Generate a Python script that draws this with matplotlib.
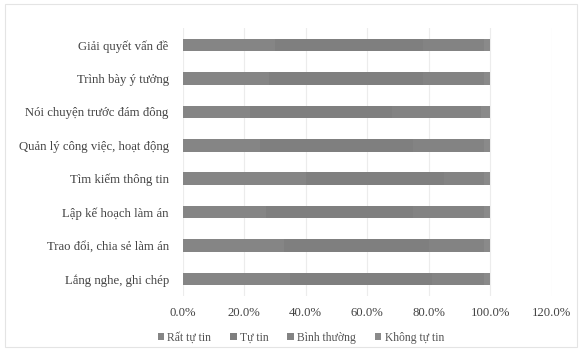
import matplotlib
matplotlib.use("Agg")
import matplotlib.pyplot as plt
from matplotlib.patches import Rectangle
from matplotlib.ticker import FuncFormatter, MultipleLocator

categories = [
    "Giải quyết vấn đề",
    "Trình bày ý tưởng",
    "Nói chuyện trước đám đông",
    "Quản lý công việc, hoạt động",
    "Tìm kiếm thông tin",
    "Lập kế hoạch làm án",
    "Trao đổi, chia sẻ làm án",
    "Lắng nghe, ghi chép",
]
series_names = ["Rất tự tin", "Tự tin", "Bình thường", "Không tự tin"]
rat_tu_tin = [30.0, 28.0, 22.0, 25.0, 40.0, 27.0, 33.0, 35.0]
tu_tin = [48.0, 50.0, 46.0, 50.0, 45.0, 48.0, 47.0, 46.0]
binh_thuong = [20.0, 20.0, 29.0, 23.0, 13.0, 23.0, 18.0, 17.0]
khong_tu_tin = [2.0, 2.0, 3.0, 2.0, 2.0, 2.0, 2.0, 2.0]
series_values = [rat_tu_tin, tu_tin, binh_thuong, khong_tu_tin]
colors = ["#858585", "#7f7f7f", "#838383", "#8a8a8a"]

plt.rcParams["font.family"] = ["Liberation Serif", "DejaVu Serif"]

fig = plt.figure(figsize=(5.82, 3.51), dpi=100)
fig.patch.set_facecolor("white")
fig.patches.append(Rectangle((0.008, 0.012), 0.984, 0.976, transform=fig.transFigure,
                             fill=False, edgecolor="#e4e4e4", linewidth=0.8))

ax = fig.add_axes([0.314, 0.158, 0.634, 0.761])
ys = list(range(len(categories)))
left = [0.0] * len(categories)
for name, vals, c in zip(series_names, series_values, colors):
    ax.barh(ys, [v / 100 for v in vals], left=left, height=0.38, color=c, label=name, zorder=3)
    left = [l + v / 100 for l, v in zip(left, vals)]

ax.set_xlim(0, 1.2)
ax.set_ylim(len(categories) - 0.5, -0.5)
ax.xaxis.set_major_locator(MultipleLocator(0.2))
ax.xaxis.set_major_formatter(FuncFormatter(lambda v, p: f"{v * 100:.1f}%"))
ax.set_yticks(ys)
ax.set_yticklabels(categories)
ax.grid(axis="x", color="#ececec", linewidth=0.8, zorder=0)
for s in ax.spines.values():
    s.set_visible(False)
ax.tick_params(axis="both", length=0, labelsize=9.2, colors="#444444")
ax.tick_params(axis="x", pad=8)
ax.tick_params(axis="y", pad=10)

handles, labels = ax.get_legend_handles_labels()
fig.legend(handles, labels, loc="center", bbox_to_anchor=(0.517, 0.037), ncol=4, frameon=False,
           fontsize=8.4, handlelength=0.55, handleheight=0.55, handletextpad=0.3,
           columnspacing=1.6, labelcolor="#555555")

fig.savefig("out.png", dpi=100, facecolor="white")
